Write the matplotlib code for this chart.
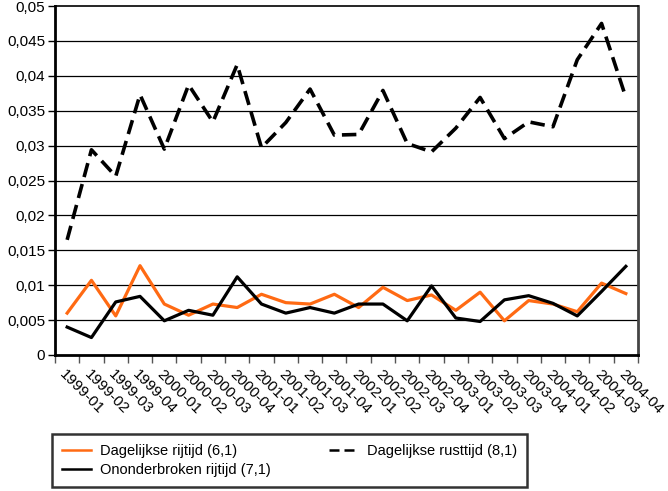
import matplotlib.pyplot as plt
from matplotlib.ticker import FixedLocator

plt.rcParams['font.family'] = ['Liberation Sans', 'DejaVu Sans']

quarters = ['1999-01', '1999-02', '1999-03', '1999-04',
            '2000-01', '2000-02', '2000-03', '2000-04',
            '2001-01', '2001-02', '2001-03', '2001-04',
            '2002-01', '2002-02', '2002-03', '2002-04',
            '2003-01', '2003-02', '2003-03', '2003-04',
            '2004-01', '2004-02', '2004-03', '2004-04']

# Dagelijkse rijtijd (6,1)
rijtijd = [0.0060, 0.0107, 0.0056, 0.0128, 0.0073, 0.0057, 0.0073, 0.0068,
           0.0087, 0.0075, 0.0073, 0.0087, 0.0068, 0.0097, 0.0078, 0.0086,
           0.0064, 0.0090, 0.0049, 0.0078, 0.0073, 0.0062, 0.0103, 0.0088]
# Ononderbroken rijtijd (7,1)
onderbroken = [0.0040, 0.0025, 0.0076, 0.0084, 0.0049, 0.0064, 0.0057, 0.0112,
               0.0073, 0.0060, 0.0068, 0.0060, 0.0073, 0.0073, 0.0049, 0.0099,
               0.0053, 0.0048, 0.0079, 0.0085, 0.0074, 0.0056, 0.0091, 0.0127]
# Dagelijkse rusttijd (8,1)
rusttijd = [0.0165, 0.0294, 0.0256, 0.0373, 0.0295, 0.0387, 0.0334, 0.0416,
            0.0297, 0.0333, 0.0381, 0.0315, 0.0316, 0.0379, 0.0303, 0.0291,
            0.0325, 0.0369, 0.0310, 0.0334, 0.0327, 0.0423, 0.0475, 0.0369]

yticks = [0, 0.005, 0.01, 0.015, 0.02, 0.025, 0.03, 0.035, 0.04, 0.045, 0.05]
ylabels = ['0', '0,005', '0,01', '0,015', '0,02', '0,025', '0,03', '0,035',
           '0,04', '0,045', '0,05']

fig = plt.figure(figsize=(6.68, 4.91), dpi=100)
ax = fig.add_axes([55 / 668, 136 / 491, 583 / 668, 349 / 491])

x = list(range(len(quarters)))
l1, = ax.plot(x, rijtijd, color='#ff6a13', lw=2.3, label='Dagelijkse rijtijd (6,1)')
l2, = ax.plot(x, onderbroken, color='black', lw=2.3, label='Ononderbroken rijtijd (7,1)')
l3, = ax.plot(x, rusttijd, color='black', lw=2.6, ls=(0, (4, 2)),
              label='Dagelijkse rusttijd (8,1)')

ax.set_xlim(-0.5, len(quarters) - 0.5)
ax.set_ylim(0, 0.05)
ax.set_yticks(yticks)
ax.set_yticklabels(ylabels, fontsize=11)
for y in yticks[1:-1]:
    ax.axhline(y, color='black', lw=0.9, zorder=0)

ax.set_xticks(x)
ax.set_xticklabels(quarters, rotation=-45, ha='left', va='top',
                   rotation_mode='anchor', fontsize=11)
ax.tick_params(axis='x', which='major', length=0, pad=9)
ax.xaxis.set_minor_locator(FixedLocator([i - 0.5 for i in range(len(quarters) + 1)]))
ax.tick_params(axis='x', which='minor', length=6, width=1, color='#555555')
ax.tick_params(axis='y', length=5, width=1, pad=2)

for side in ['left', 'bottom']:
    ax.spines[side].set_linewidth(2)
ax.spines['right'].set_linewidth(2)
ax.spines['right'].set_color('#444444')
ax.spines['top'].set_linewidth(1.2)

leg = fig.legend(handles=[l1, l2, l3], ncol=2,
                 bbox_to_anchor=(52 / 668, 4 / 491),
                 loc='lower left', fontsize=10.5, frameon=True, fancybox=False,
                 handlelength=2.0, borderaxespad=0, labelspacing=0.3,
                 borderpad=0.7, columnspacing=4.0, handletextpad=0.6)
leg.get_frame().set_edgecolor('black')
leg.get_frame().set_linewidth(1.8)
for line in leg.get_lines():
    line.set_linewidth(1.8)

fig.savefig('out.png', dpi=100)
